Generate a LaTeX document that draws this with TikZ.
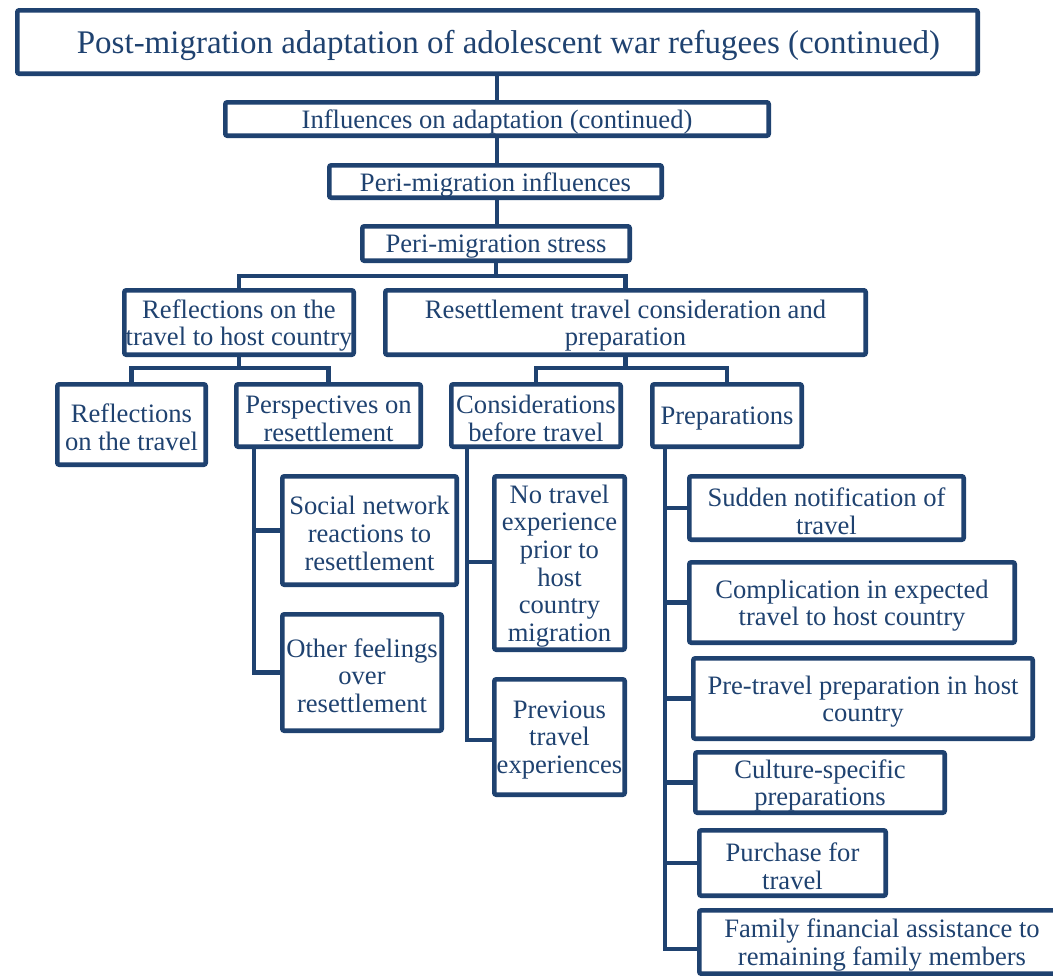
\documentclass[tikz,border=0pt]{standalone}
\usepackage{fontspec}
\setmainfont{Liberation Serif}
\definecolor{navy}{RGB}{31,66,112}
\tikzset{
  box/.style={draw=navy, line width=2.3pt, rounded corners=1pt,
    inner sep=0pt, fill=white},
  boxtext/.style={align=center, inner sep=0pt, text=navy,
    font=\fontsize{13.3}{13.85}\selectfont},
  conn/.style={draw=navy, line width=2.3pt},
}
% box from outer pixel edges (x1,y1)-(x2,y2), with its text
\newcommand\pbox[7][]{%
  \pgfmathsetmacro\cxv{(#3+#5)/2}\pgfmathsetmacro\cyv{(#4+#6)/2}%
  \pgfmathsetmacro\wv{(#5-#3)/2-2.3}\pgfmathsetmacro\hv{(#6-#4)/2-2.3}%
  \node[box, minimum width=\wv pt, minimum height=\hv pt] (#2) at (\cxv,\cyv) {};
  \node[boxtext, yshift=-1.5pt, #1] (#2-t) at (#2.center) {#7};}
\begin{document}
\begin{tikzpicture}[x=0.5pt, y=-0.5pt]
\useasboundingbox (0,0) rectangle (1053,975);
\clip (0,0) rectangle (1053,975);
\fill[white] (0,0) rectangle (1053,975);

% connector levels
\coordinate (b1) at (0,276);
\coordinate (b2) at (0,368);
\coordinate (tp) at (254,0);
\coordinate (tc) at (467,0);
\coordinate (tr) at (665,0);

% central spine
\draw[conn] (497,42) -- (497,244);

\pbox[xshift=5.5pt, font=\fontsize{16.5}{18}\selectfont]{title}{15}{8}{980}{76}{Post-migration adaptation of adolescent war refugees (continued)}
\pbox{infl}{223}{100}{771}{138}{Influences on adaptation (continued)}
\pbox{peri}{327}{163}{664}{200}{Peri-migration influences}
\pbox{stress}{360}{224}{632}{263}{Peri-migration stress}

\pbox{refl}{122}{288}{356}{357}{Reflections on the\\travel to host country}
\pbox{resett}{383}{288}{868}{357}{Resettlement travel consideration and\\preparation}

\pbox{rtravel}{55}{382}{208}{467}{Reflections\\on the travel}
\pbox{persp}{234}{382}{423}{449}{Perspectives on\\resettlement}
\pbox{consid}{449}{382}{623}{449}{Considerations\\before travel}
\pbox{prep}{650}{382}{804}{449}{Preparations}

\pbox{social}{280}{474}{459}{587}{Social network\\reactions to\\resettlement}
\pbox{other}{280}{612}{444}{733}{Other feelings\\over\\resettlement}

\pbox{notravel}{492}{474}{627}{652}{No travel\\experience\\prior to\\host\\country\\migration}
\pbox{prev}{492}{677}{627}{797}{Previous\\travel\\experiences}

\pbox{sudden}{687}{474}{966}{542}{Sudden notification of\\travel}
\pbox{compl}{687}{560}{1017}{645}{Complication in expected\\travel to host country}
\pbox{pretr}{691}{656}{1035}{741}{Pre-travel preparation in host\\country}
\pbox{cult}{693}{750}{947}{815}{Culture-specific\\preparations}
\pbox{purch}{697}{828}{888}{898}{Purchase for\\travel}
\pbox{famfin}{697}{908}{1067}{976}{Family financial assistance to\\remaining family members}

% second level split
\draw[conn] (stress.south) -- (stress.south |- b1);
\draw[conn] (refl.north) |- (b1 -| resett.north) -- (resett.north);

% third level splits
\draw[conn] (refl.south) -- (refl.south |- b2);
\draw[conn] (rtravel.north) |- (b2 -| persp.north) -- (persp.north);
\draw[conn] (resett.south) -- (resett.south |- b2);
\draw[conn] (consid.north) |- (b2 -| prep.north) -- (prep.north);

% side trunks
\draw[conn] (persp.south -| tp) |- (other.west);
\draw[conn] (social.west) -- (social.west -| tp);
\draw[conn] (consid.south -| tc) |- ([yshift=-1.5pt]prev.west);
\draw[conn] ([yshift=0.5pt]notravel.west) -- ([yshift=0.5pt]notravel.west -| tc);
\draw[conn] (prep.south -| tr) |- ([yshift=-3.5pt]famfin.west);
\foreach \n in {sudden,compl,pretr,cult,purch}
  \draw[conn] (\n.west) -- (\n.west -| tr);
\end{tikzpicture}
\end{document}
